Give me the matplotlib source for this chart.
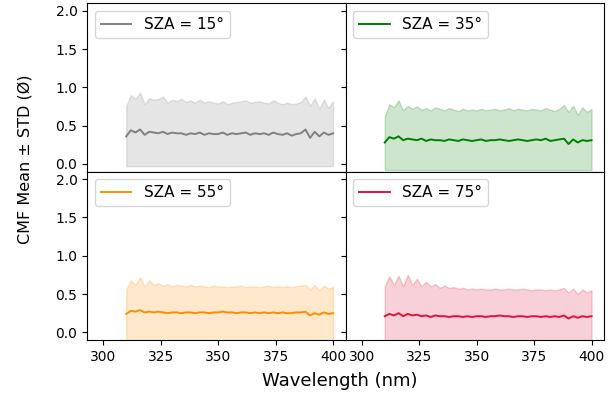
import numpy as np
import matplotlib.pyplot as plt

# wavelength grid (nm), 2 nm steps
wavelength = np.arange(310, 401, 2)

sza_labels = ["SZA = 15°", "SZA = 35°", "SZA = 55°", "SZA = 75°"]
colors = ["gray", "green", "darkorange", "crimson"]

# CMF mean per wavelength
mean_15 = [0.36, 0.44, 0.41, 0.45, 0.38, 0.42, 0.41, 0.40, 0.42, 0.39, 0.41, 0.40,
           0.40, 0.38, 0.40, 0.39, 0.41, 0.38, 0.40, 0.39, 0.39, 0.41, 0.38, 0.40,
           0.39, 0.40, 0.41, 0.38, 0.40, 0.39, 0.40, 0.38, 0.41, 0.39, 0.38, 0.40,
           0.37, 0.39, 0.40, 0.45, 0.34, 0.42, 0.36, 0.41, 0.38, 0.40]
mean_35 = [0.28, 0.35, 0.33, 0.36, 0.31, 0.33, 0.32, 0.31, 0.33, 0.30, 0.32, 0.31,
           0.31, 0.30, 0.32, 0.31, 0.30, 0.32, 0.31, 0.30, 0.31, 0.32, 0.30, 0.31,
           0.31, 0.32, 0.31, 0.30, 0.31, 0.32, 0.31, 0.30, 0.31, 0.32, 0.31, 0.33,
           0.30, 0.31, 0.32, 0.33, 0.26, 0.32, 0.28, 0.31, 0.30, 0.31]
mean_55 = [0.24, 0.28, 0.27, 0.29, 0.26, 0.27, 0.26, 0.27, 0.26, 0.25, 0.26, 0.26,
           0.25, 0.26, 0.26, 0.25, 0.26, 0.26, 0.25, 0.26, 0.26, 0.27, 0.26, 0.26,
           0.25, 0.26, 0.26, 0.25, 0.26, 0.25, 0.26, 0.25, 0.26, 0.25, 0.26, 0.25,
           0.25, 0.26, 0.26, 0.27, 0.22, 0.25, 0.23, 0.26, 0.24, 0.25]
mean_75 = [0.21, 0.24, 0.22, 0.25, 0.21, 0.24, 0.22, 0.23, 0.21, 0.22, 0.20, 0.22,
           0.21, 0.21, 0.20, 0.21, 0.21, 0.20, 0.21, 0.20, 0.21, 0.21, 0.20, 0.21,
           0.21, 0.22, 0.21, 0.21, 0.20, 0.21, 0.21, 0.20, 0.21, 0.21, 0.20, 0.21,
           0.20, 0.21, 0.20, 0.22, 0.18, 0.21, 0.19, 0.21, 0.20, 0.21]

# mean + STD (upper edge of the band)
upper_15 = [0.76, 0.90, 0.85, 0.93, 0.78, 0.86, 0.84, 0.85, 0.88, 0.80, 0.84, 0.82,
            0.85, 0.81, 0.83, 0.80, 0.84, 0.80, 0.82, 0.80, 0.79, 0.82, 0.78, 0.80,
            0.81, 0.82, 0.83, 0.80, 0.81, 0.82, 0.80, 0.79, 0.83, 0.80, 0.78, 0.80,
            0.78, 0.79, 0.81, 0.88, 0.76, 0.86, 0.72, 0.84, 0.73, 0.82]
upper_35 = [0.62, 0.78, 0.74, 0.83, 0.70, 0.76, 0.72, 0.75, 0.71, 0.73, 0.70, 0.74,
            0.72, 0.70, 0.73, 0.71, 0.69, 0.72, 0.70, 0.71, 0.70, 0.72, 0.70, 0.71,
            0.72, 0.70, 0.71, 0.73, 0.70, 0.72, 0.71, 0.70, 0.72, 0.71, 0.70, 0.73,
            0.71, 0.69, 0.72, 0.77, 0.68, 0.76, 0.64, 0.74, 0.68, 0.72]
upper_55 = [0.56, 0.68, 0.62, 0.72, 0.60, 0.68, 0.62, 0.64, 0.61, 0.63, 0.60, 0.62,
            0.61, 0.60, 0.62, 0.60, 0.61, 0.60, 0.59, 0.61, 0.60, 0.60, 0.59, 0.60,
            0.60, 0.61, 0.59, 0.60, 0.60, 0.59, 0.60, 0.61, 0.59, 0.60, 0.59, 0.60,
            0.59, 0.60, 0.61, 0.62, 0.56, 0.62, 0.55, 0.61, 0.57, 0.59]
upper_75 = [0.60, 0.73, 0.62, 0.74, 0.60, 0.75, 0.62, 0.70, 0.60, 0.66, 0.60, 0.63,
            0.58, 0.61, 0.58, 0.59, 0.57, 0.58, 0.56, 0.57, 0.56, 0.57, 0.56, 0.56,
            0.57, 0.56, 0.56, 0.57, 0.56, 0.56, 0.57, 0.56, 0.55, 0.56, 0.56, 0.55,
            0.56, 0.55, 0.56, 0.58, 0.52, 0.57, 0.50, 0.56, 0.52, 0.55]

# mean - STD is flat at the bottom of each band
lower_bounds = [-0.03, -0.08, -0.15, -0.15]

means = [mean_15, mean_35, mean_55, mean_75]
uppers = [upper_15, upper_35, upper_55, upper_75]

fig, axes = plt.subplots(2, 2, figsize=(6.14, 3.99), dpi=100,
                         sharex=True, sharey=True)
fig.subplots_adjust(left=0.142, right=0.984, top=0.992, bottom=0.148,
                    wspace=0, hspace=0)

for i, ax in enumerate(axes.flat):
    mean = np.array(means[i])
    upper = np.array(uppers[i])
    lower = np.full_like(mean, lower_bounds[i])
    ax.fill_between(wavelength, lower, upper, color=colors[i], alpha=0.2)
    ax.plot(wavelength, mean, color=colors[i], lw=1.4, label=sza_labels[i])
    ax.legend(loc="upper left", fontsize=11)

    ax.set_xlim(293, 405.5)
    ax.set_ylim(-0.1, 2.1)
    ax.set_xticks([300, 325, 350, 375, 400])
    ax.set_yticks([0.0, 0.5, 1.0, 1.5, 2.0])

for ax in axes[0]:
    ax.tick_params(axis="x", bottom=False)

fig.text(0.04, 0.6, "CMF Mean ± STD (Ø)", rotation=90,
         ha="center", va="center", fontsize=11.5)
fig.text(0.553, 0.045, "Wavelength (nm)", ha="center", va="center", fontsize=13)

fig.savefig("out.png", dpi=100)
